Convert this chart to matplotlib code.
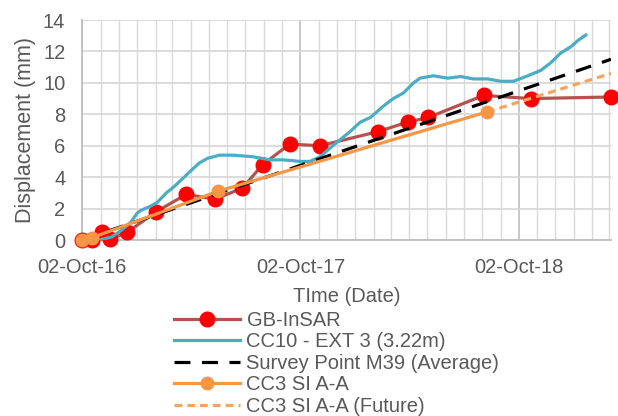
import numpy as np
import matplotlib
matplotlib.use("Agg")
from matplotlib import pyplot as plt
import matplotlib.dates as mdates
from matplotlib.ticker import FixedLocator

plt.rcParams['font.family'] = ['Liberation Sans', 'DejaVu Sans']

start = np.datetime64('2016-10-02')

# GB-InSAR (days after 02-Oct-16, mm)
insar_days = [0, 17, 33, 46, 76, 124, 174, 222, 268, 302, 347, 398, 495, 544, 579, 671, 750, 884]
insar_mm = [0, 0.0, 0.5, 0.05, 0.5, 1.8, 2.9, 2.6, 3.3, 4.8, 6.1, 6.0, 6.9, 7.5, 7.8, 9.2, 9.0, 9.1]

# CC10 - EXT 3 extensometer
ext_days = [29, 50, 65, 82, 92, 99, 112, 126, 141, 154, 168, 183, 196, 210, 230,
            252, 268, 285, 300, 314, 336, 352, 364, 381, 398, 419, 448, 465, 482,
            503, 520, 537, 554, 565, 587, 611, 633, 654, 678, 700, 721, 745, 767,
            784, 800, 817, 829, 842]
ext_mm = [0, 0.2, 0.6, 1.15, 1.7, 1.9, 2.1, 2.4, 3.0, 3.4, 3.9, 4.45, 4.9, 5.2, 5.4,
          5.4, 5.35, 5.3, 5.2, 5.1, 5.1, 5.05, 5.0, 5.0, 5.3, 6.0, 6.9, 7.5, 7.8,
          8.5, 9.0, 9.35, 10.0, 10.3, 10.45, 10.3, 10.4, 10.25, 10.25, 10.1, 10.1, 10.45, 10.8,
          11.3, 11.9, 12.3, 12.7, 13.05]

# Survey point M39 average trend
survey_days = [0, 884]
survey_mm = [0, 11.5]

# CC3 SI A-A inclinometer
si_days = [0, 17, 227, 677]
si_mm = [0, 0.15, 3.1, 8.15]
future_days = [677, 884]
future_mm = [8.15, 10.6]

major_dates = ['2016-10-02', '2017-10-02', '2018-10-02']
major_labels = ['02-Oct-16', '02-Oct-17', '02-Oct-18']


def to_dates(days):
    return start + np.array(days).astype('timedelta64[D]')


fig = plt.figure(figsize=(6.18, 4.16), dpi=100)
ax = fig.add_axes([82 / 618, 176 / 416, 529 / 618, 220 / 416])

grey = '#595959'
ax.plot(to_dates(insar_days), insar_mm, color='#B5524F', lw=2.3, marker='o',
        markersize=10.5, markerfacecolor='#FF0000', markeredgecolor='#FF0000',
        label='GB-InSAR', clip_on=False, zorder=3)
ax.plot(to_dates(ext_days), ext_mm, color='#4BACC6', lw=2.3,
        label='CC10 - EXT 3 (3.22m)', zorder=3)
ax.plot(to_dates(survey_days), survey_mm, color='black', lw=2.3,
        dashes=(5, 3.6), label='Survey Point M39 (Average)', zorder=3)
ax.plot(to_dates(si_days), si_mm, color='#F79646', lw=2.3, marker='o',
        markersize=9, label='CC3 SI A-A', clip_on=False, zorder=4)
ax.plot(to_dates(future_days), future_mm, color='#F5A45E', lw=2.3,
        dashes=(2.4, 1.6), label='CC3 SI A-A (Future)', zorder=3)

ax.set_ylim(0, 14)
ax.set_yticks(np.arange(0, 15, 2))
ax.set_xlim(start, start + np.timedelta64(884, 'D'))

ax.xaxis.set_major_locator(FixedLocator(mdates.datestr2num(major_dates)))
ax.set_xticklabels(major_labels)
ax.xaxis.set_minor_locator(mdates.MonthLocator(bymonthday=2))

ax.grid(which='minor', axis='x', color='#D9D9D9', lw=1)
ax.grid(which='major', axis='x', color='#C4C4C4', lw=1.3)
ax.grid(which='major', axis='y', color='#D9D9D9', lw=1.3)
ax.set_axisbelow(True)

for s in ['top', 'right']:
    ax.spines[s].set_visible(False)
for s in ['left', 'bottom']:
    ax.spines[s].set_color('#BFBFBF')
    ax.spines[s].set_linewidth(1.3)

ax.tick_params(which='both', length=0, labelsize=14.5, labelcolor=grey)
ax.tick_params(axis='y', pad=12)
ax.tick_params(axis='x', pad=13)

ax.set_ylabel('Displacement (mm)', fontsize=15.5, color=grey, labelpad=5)
ax.set_xlabel('TIme (Date)', fontsize=14.5, color=grey, labelpad=7)

fig.legend(loc='upper left', bbox_to_anchor=(174 / 618, 1 - 311 / 416),
           frameon=False, fontsize=14.5, labelcolor=grey, handlelength=3.3,
           handletextpad=0.3, labelspacing=0.12, borderpad=0, borderaxespad=0)

fig.savefig('out.png', dpi=100)
